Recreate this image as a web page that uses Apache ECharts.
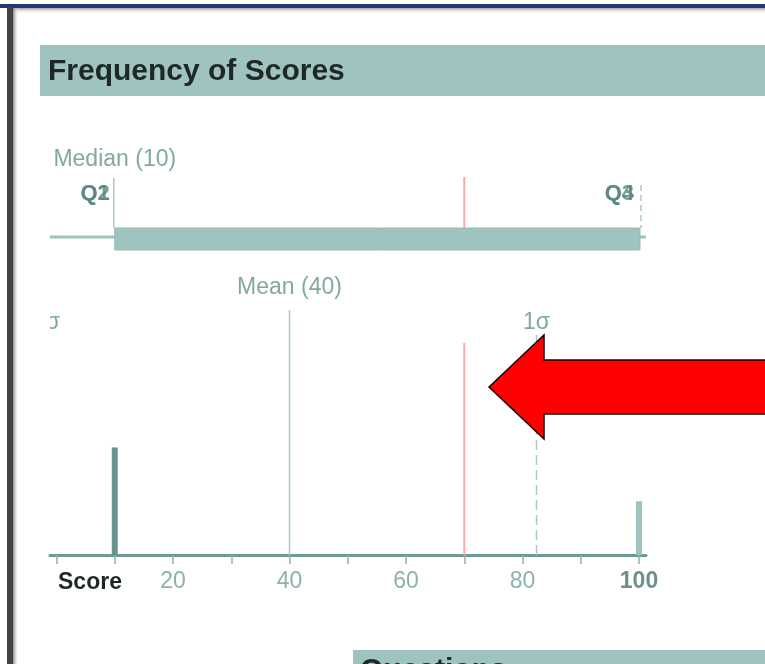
<!DOCTYPE html>
<html><head><meta charset="utf-8">
<script src="https://cdn.jsdelivr.net/npm/echarts@6/dist/echarts.min.js"></script>
<style>html,body{margin:0;padding:0;background:#fff}#c{width:765px;height:664px}</style>
</head><body><div id="c"></div>
<script>
// ---- data ----
const scoreBins = [10, 100];
const binCounts = [2, 1];
const quartileLabels = ['Q1', 'Q2', 'Q3', 'Q4'];
const quartileValues = [10, 10, 100, 100];
const medianScore = 10;
const meanScore = 40;
const sigmaMarks = [-2.4, 82.4];
const sigmaLabels = ['-1σ', '1σ'];
const yourScore = 70;
const tickValues = [0, 10, 20, 30, 40, 50, 60, 70, 80, 90, 100];
const tickLabels = [20, 40, 60, 80, 100];
const axisMin = -1.12, axisMax = 101.2;

const FONT = '"Liberation Sans", Arial, sans-serif';
const TEAL = '#9fc3bf';
const LINE = '#aacac6';
const LBL = '#82a8a3';
const RED = '#ffa8a8';

const chart = echarts.init(document.getElementById('c'), null, {renderer: 'canvas'});

function redLine(x, y1, y2) {
  return {type: 'rect', shape: {x: x - 1, y: y1, width: 2, height: y2 - y1}, style: {fill: RED}};
}

function boxRender(params, api) {
  const cs = params.coordSys;
  const top = cs.y;
  const X = v => api.coord([v, 0])[0];
  const q1 = api.value(0), q3 = api.value(1);
  const children = [];
  children.push({type: 'line', shape: {x1: cs.x, y1: top + 97, x2: cs.x + cs.width, y2: top + 97},
    style: {stroke: TEAL, lineWidth: 3}});
  children.push(redLine(X(yourScore), top + 37, top + 88));
  children.push({type: 'rect', shape: {x: X(q1), y: top + 88, width: X(q3) - X(q1) + 1, height: 22},
    style: {fill: TEAL, stroke: '#95bbb6', lineWidth: 1}});
  children.push({type: 'line', shape: {x1: X(medianScore) - 1, y1: top + 38, x2: X(medianScore) - 1, y2: top + 88},
    style: {stroke: LINE, lineWidth: 1.5}});
  children.push({type: 'line', shape: {x1: X(q3) + 2, y1: top + 45, x2: X(q3) + 2, y2: top + 88},
    style: {stroke: LINE, lineWidth: 1.5, lineDash: [6, 4]}});
  children.push({type: 'text', x: X(medianScore), y: top + 20,
    style: {text: 'Median (' + medianScore + ')', fill: LBL, font: '23px ' + FONT, textAlign: 'center', textVerticalAlign: 'middle'}});
  quartileLabels.forEach((q, i) => {
    children.push({type: 'text', x: X(quartileValues[i]) - 5, y: top + 54,
      style: {text: q, fill: '#55857f', opacity: 0.8, font: 'bold 22px ' + FONT, textAlign: 'right', textVerticalAlign: 'middle'}});
  });
  return {type: 'group', children};
}

function refRender(params, api) {
  const cs = params.coordSys;
  const top = cs.y, bottom = cs.y + cs.height;
  const X = v => api.coord([v, 0])[0];
  const children = [];
  children.push({type: 'line', shape: {x1: X(meanScore), y1: top + 40, x2: X(meanScore), y2: bottom},
    style: {stroke: LINE, lineWidth: 1.5}});
  children.push(redLine(X(yourScore), top + 73, bottom));
  children.push({type: 'text', x: X(meanScore), y: top + 18,
    style: {text: 'Mean (' + meanScore + ')', fill: LBL, font: '23px ' + FONT, textAlign: 'center', textVerticalAlign: 'middle'}});
  sigmaMarks.forEach((s, i) => {
    children.push({type: 'line', shape: {x1: X(s), y1: top + 65, x2: X(s), y2: bottom},
      style: {stroke: LINE, lineWidth: 1.5, lineDash: [10, 5]}});
    children.push({type: 'text', x: X(s), y: top + 53,
      style: {text: sigmaLabels[i], fill: LBL, font: '23px ' + FONT, textAlign: 'center', textVerticalAlign: 'middle'}});
  });
  return {type: 'group', children};
}

const option = {
  animation: false,
  backgroundColor: '#fff',
  grid: [
    {left: 50, right: 119, top: 140, height: 120},
    {left: 50, right: 119, top: 270, bottom: 109}
  ],
  xAxis: [
    {gridIndex: 0, type: 'value', min: axisMin, max: axisMax, show: false},
    {gridIndex: 1, type: 'value', min: axisMin, max: axisMax,
      splitLine: {show: false},
      axisLine: {lineStyle: {color: '#6f9993', width: 3}},
      axisTick: {customValues: tickValues, length: 9, lineStyle: {color: '#8fb3ae', width: 1.5}},
      axisLabel: {customValues: tickLabels, margin: 15, color: '#8fb1ad', fontSize: 23, fontFamily: FONT,
        formatter: v => v === 100 ? '{b|100}' : String(v),
        rich: {b: {fontWeight: 'bold', color: '#6f8f8b', fontSize: 23, fontFamily: FONT}}},
      name: 'Score', nameLocation: 'start', nameGap: -8,
      nameTextStyle: {fontSize: 23, fontWeight: 'bold', color: '#1f2626', fontFamily: FONT, align: 'left', verticalAlign: 'top', padding: [16, 0, 0, 0]}
    }
  ],
  yAxis: [
    {gridIndex: 0, type: 'value', min: 0, max: 1, show: false},
    {gridIndex: 1, type: 'value', min: 0, max: 5.3, show: false}
  ],
  series: [
    {type: 'custom', xAxisIndex: 0, yAxisIndex: 0, renderItem: boxRender,
      data: [[quartileValues[1], quartileValues[2]]], silent: true, z: 2},
    {type: 'custom', xAxisIndex: 1, yAxisIndex: 1, renderItem: refRender, clip: true,
      data: [[meanScore]], silent: true, z: 2},
    {type: 'bar', xAxisIndex: 1, yAxisIndex: 1, barWidth: 6, z: 3,
      data: scoreBins.map((s, i) => ({value: [s, binCounts[i]], itemStyle: {color: i === 0 ? '#6a958e' : TEAL}}))}
  ],
  graphic: {elements: [
    {type: 'rect', shape: {x: 0, y: 4, width: 765, height: 4}, style: {fill: '#1d3a74'}, z: 10},
    {type: 'rect', shape: {x: 7, y: 8, width: 758, height: 6},
      style: {fill: new echarts.graphic.LinearGradient(0, 0, 0, 1, [{offset: 0, color: '#a0a0a0'}, {offset: 1, color: 'rgba(255,255,255,0)'}])}, z: 9},
    {type: 'rect', shape: {x: 7, y: 7, width: 6, height: 657}, style: {fill: '#444'}, z: 10},
    {type: 'rect', shape: {x: 13, y: 8, width: 6, height: 656},
      style: {fill: new echarts.graphic.LinearGradient(0, 0, 1, 0, [{offset: 0, color: '#8a8a8a'}, {offset: 1, color: 'rgba(255,255,255,0)'}])}, z: 9},
    {type: 'rect', shape: {x: 40, y: 45, width: 730, height: 51}, style: {fill: TEAL}, z: 1},
    {type: 'text', x: 48, y: 72, style: {text: 'Frequency of Scores', fill: '#1e2828', font: 'bold 30px ' + FONT, textVerticalAlign: 'middle'}, z: 2},
    {type: 'rect', shape: {x: 353, y: 650, width: 420, height: 20}, style: {fill: TEAL}, z: 1},
    {type: 'text', x: 360, y: 656, style: {text: 'Questions', fill: '#1e2828', font: 'bold 30px ' + FONT, textVerticalAlign: 'top'}, z: 2},
    {type: 'polygon', shape: {points: [[489, 387], [544, 335], [544, 360], [775, 360], [775, 414], [544, 414], [544, 439]]},
      style: {fill: '#ff0000', stroke: '#1a0000', lineWidth: 1.5}, z: 20}
  ]}
};
chart.setOption(option);
</script>
</body></html>
